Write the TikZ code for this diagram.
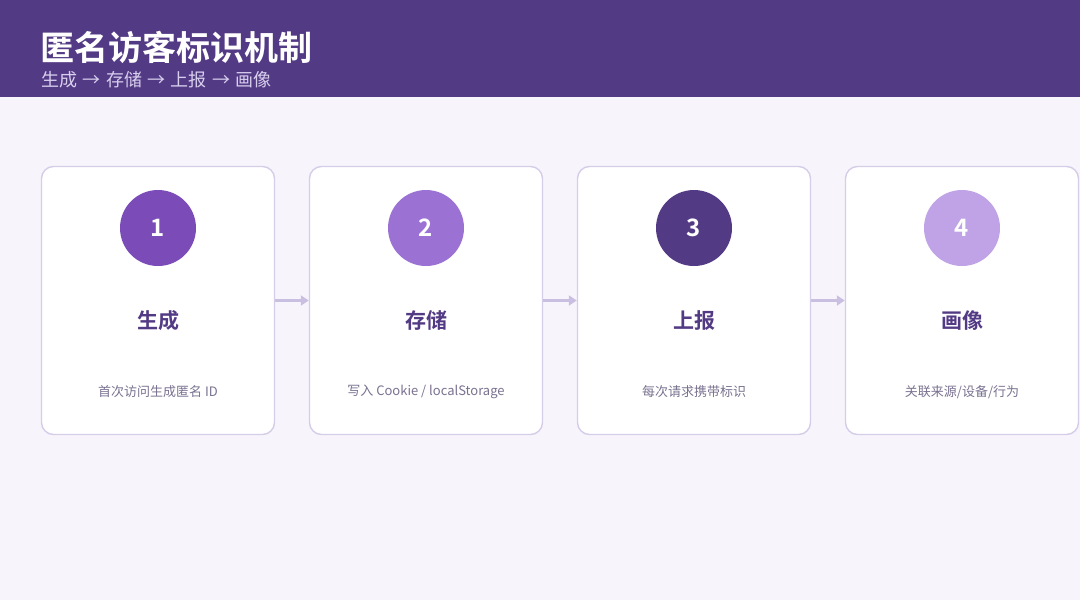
\documentclass[tikz,border=0pt]{standalone}
\usepackage{fontspec}
\setmainfont{Noto Sans CJK SC}
\newfontfamily\cjkbold{Noto Sans CJK SC Bold}
\usetikzlibrary{arrows.meta}
\definecolor{bgc}{HTML}{F8F4FC}
\definecolor{hdr}{HTML}{533A84}
\definecolor{subc}{HTML}{D8CFEE}
\definecolor{cardline}{HTML}{D6CDE9}
\definecolor{arrc}{HTML}{C9BFE0}
\definecolor{cA}{HTML}{7B4BB7}
\definecolor{cB}{HTML}{9B72D4}
\definecolor{cC}{HTML}{533A84}
\definecolor{cD}{HTML}{C0A2E6}
\definecolor{descc}{HTML}{7A7290}
\tikzset{
  x=1pt,y=-1pt,
  card/.style={draw=cardline,line width=1.4pt,fill=white,rounded corners=12pt,minimum width=233pt,minimum height=268pt,inner sep=0pt},
  numc/.style={circle,minimum size=76pt,inner sep=0pt,text=white,font=\cjkbold\fontsize{24}{24}\selectfont},
  ttl/.style={text=hdr,font=\cjkbold\fontsize{21}{21}\selectfont,inner sep=0pt},
  desc/.style={text=descc,font=\fontsize{13}{13}\selectfont,inner sep=0pt},
  flow/.style={draw=arrc,line width=2.5pt,-{Triangle[length=8pt,width=10pt]}}
}
\newcommand\sar{\hspace{0.3em}→\hspace{0.3em}}
\begin{document}
\begin{tikzpicture}
\useasboundingbox (0,0) rectangle (1080,600);
\fill[bgc] (0,0) rectangle (1080,600);
\fill[hdr] (0,0) rectangle (1080,97);
\node[anchor=base west,text=white,font=\cjkbold\fontsize{34}{34}\selectfont,inner sep=0pt] (title) at (40,60) {匿名访客标识机制};
\node[anchor=base west,text=subc,font=\fontsize{18}{18}\selectfont,inner sep=0pt] (sub) at (41,86) {生成\sar 存储\sar 上报\sar 画像};
\foreach \i/\cx/\col/\num/\t/\d in {1/158/cA/1/生成/{首次访问生成匿名 ID},2/426/cB/2/存储/{写入 Cookie / localStorage},3/694/cC/3/上报/{每次请求携带标识},4/962/cD/4/画像/{关联来源/设备/行为}}{
  \node[card] (card\i) at (\cx,300.5) {};
  \node[numc,fill=\col] (num\i) at (\cx,228) {\num};
  \node[ttl] (t\i) at (\cx,320.5) {\t};
  \node[desc] (d\i) at (\cx,392) {\d};
}
\draw[flow] (card1.east) -- (card2.west);
\draw[flow] (card2.east) -- (card3.west);
\draw[flow] (card3.east) -- (card4.west);
\end{tikzpicture}
\end{document}
